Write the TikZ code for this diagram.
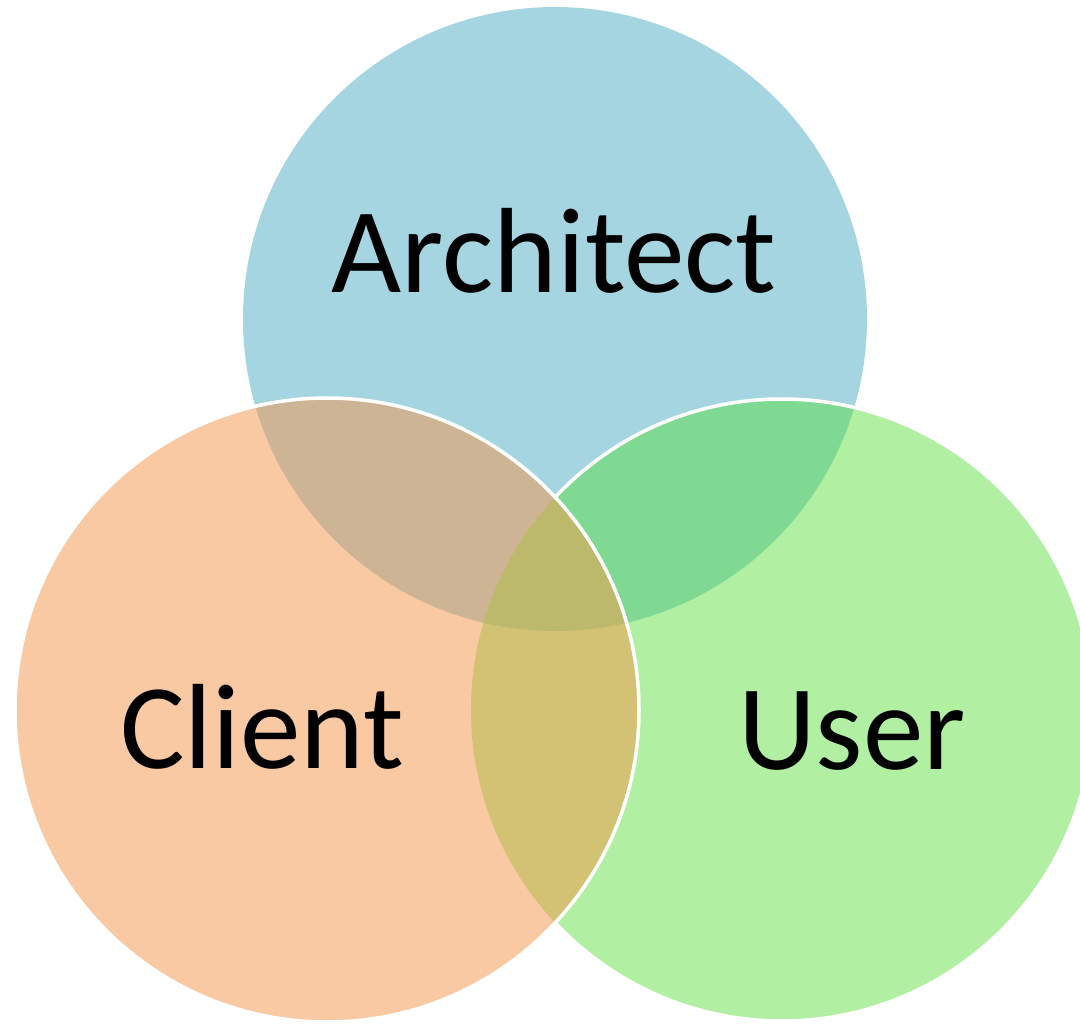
\documentclass[tikz,border=0pt]{standalone}
\usepackage{fontspec}
\setmainfont{Carlito}
\usetikzlibrary{positioning}

\definecolor{archblue}{HTML}{A6D5E2}
\definecolor{clientorange}{HTML}{F9C9A4}
\definecolor{usergreen}{HTML}{B1F0A3}
\definecolor{archclient}{HTML}{CDB495}
\definecolor{archuser}{HTML}{80D992}
\definecolor{clientuser}{HTML}{D3C174}
\definecolor{allthree}{HTML}{BCB96C}

\begin{document}
\begin{tikzpicture}[
    x=0.02cm, y=-0.02cm,
    role/.style={font=\fontsize{69}{80}\selectfont, anchor=base, inner sep=0pt},
    rim/.style={draw=white, line width=2pt}
]

\useasboundingbox (0,0) rectangle (1080,1025);

% Centres
\coordinate (A) at (555,319);
\coordinate (C) at (327,710);
\coordinate (U) at (782,710);

% Architect
\fill[archblue] (A) circle[radius=312];

% User, and its overlap with Architect
\fill[usergreen] (U) circle[radius=311];
\begin{scope}
  \clip (A) circle[radius=312];
  \fill[archuser] (U) circle[radius=311];
\end{scope}
\draw[rim] (U) circle[radius=311];

% Client, and its overlaps
\fill[clientorange] (C) circle[radius=312];
\begin{scope}
  \clip (C) circle[radius=312];
  \fill[archclient] (A) circle[radius=312];
  \fill[clientuser] (U) circle[radius=311];
  \clip (A) circle[radius=312];
  \fill[allthree] (U) circle[radius=311];
\end{scope}
\draw[rim] (C) circle[radius=312];

% Names
\node[role] (archname) at (554,292) {Architect};
\node[role] (clientname) at (262,768) {Client};
\node[role] (username) at (852,769) {User};

\end{tikzpicture}
\end{document}
